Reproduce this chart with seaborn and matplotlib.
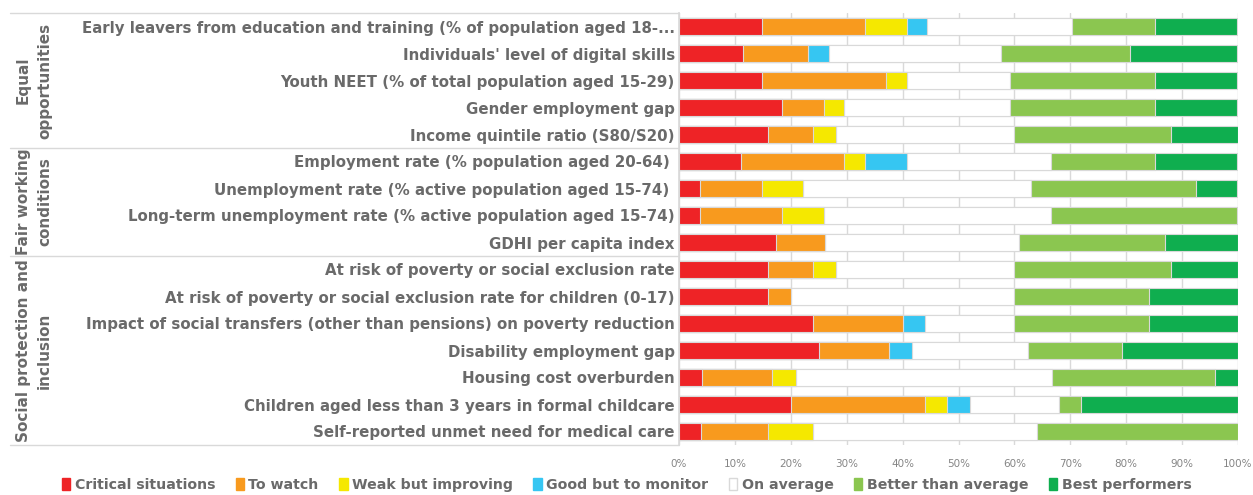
import numpy as np
import pandas as pd
import matplotlib.pyplot as plt
import matplotlib.transforms as mtransforms
from matplotlib.lines import Line2D
from matplotlib.patches import Patch
import seaborn as sns

# ==============================================
# Social scoreboard - share of regions per category
# ==============================================

indicators = [
    "Early leavers from education and training (% of population aged 18-...",
    "Individuals' level of digital skills",
    "Youth NEET (% of total population aged 15-29)",
    "Gender employment gap",
    "Income quintile ratio (S80/S20)",
    "Employment rate (% population aged 20-64) ",
    "Unemployment rate (% active population aged 15-74) ",
    "Long-term unemployment rate (% active population aged 15-74)",
    "GDHI per capita index",
    "At risk of poverty or social exclusion rate",
    "At risk of poverty or social exclusion rate for children (0-17)",
    "Impact of social transfers (other than pensions) on poverty reduction",
    "Disability employment gap",
    "Housing cost overburden",
    "Children aged less than 3 years in formal childcare",
    "Self-reported unmet need for medical care",
]

categories = ["Critical situations", "To watch", "Weak but improving",
              "Good but to monitor", "On average", "Better than average",
              "Best performers"]

# share of regions (%) in each category, one list per category
critical = [14.8, 11.5, 14.8, 18.5, 16.0, 11.1, 3.7, 3.7, 17.4, 16.0, 16.0, 24.0, 25.0, 4.2, 20.0, 4.0]
to_watch = [18.5, 11.5, 22.2, 7.4, 8.0, 18.5, 11.1, 14.8, 8.7, 8.0, 4.0, 16.0, 12.5, 12.5, 24.0, 12.0]
weak_improving = [7.4, 0.0, 3.7, 3.7, 4.0, 3.7, 7.4, 7.4, 0.0, 4.0, 0.0, 0.0, 0.0, 4.2, 4.0, 8.0]
good_monitor = [3.7, 3.8, 0.0, 0.0, 0.0, 7.4, 0.0, 0.0, 0.0, 0.0, 0.0, 4.0, 4.2, 0.0, 4.0, 0.0]
on_average = [25.9, 30.8, 18.5, 29.6, 32.0, 25.9, 40.7, 40.7, 34.8, 32.0, 40.0, 16.0, 20.8, 45.8, 16.0, 40.0]
better_avg = [14.8, 23.1, 25.9, 25.9, 28.0, 18.5, 29.6, 33.3, 26.1, 28.0, 24.0, 24.0, 16.7, 29.2, 4.0, 36.0]
best = [14.8, 19.2, 14.8, 14.8, 12.0, 14.8, 7.4, 0.0, 13.0, 12.0, 16.0, 16.0, 20.8, 4.2, 28.0, 0.0]

groups = ["Equal\nopportunities", "Fair working\nconditions", "Social protection and\ninclusion"]
group_sizes = [5, 4, 7]

colors = ["#EE2326", "#F89A1E", "#F5E800", "#36C6F2", "#FFFFFF", "#8BC650", "#0FAE4F"]
text_grey = "#6A6A6A"
line_grey = "#D9D9D9"

df = pd.DataFrame({"indicator": indicators, "Critical situations": critical,
                   "To watch": to_watch, "Weak but improving": weak_improving,
                   "Good but to monitor": good_monitor, "On average": on_average,
                   "Better than average": better_avg, "Best performers": best})
cum = df[categories].cumsum(axis=1)

sns.set_theme(style="white")
plt.rcParams["font.family"] = ["DejaVu Sans"]

fig = plt.figure(figsize=(12.53, 4.95), dpi=100)
ax = fig.add_axes([679 / 1253, 1 - 445 / 495, (1238 - 679) / 1253, (445 - 13) / 495])

# stacked bars: draw cumulative totals from the right-most category back
for cat, col in reversed(list(zip(categories, colors))):
    sns.barplot(x=cum[cat], y=df["indicator"], orient="h", color=col,
                width=0.64, edgecolor=line_grey, linewidth=0.8,
                saturation=1, ax=ax, zorder=3)

ax.set_xlim(0, 100)
ax.set_ylim(len(indicators) - 0.5, -0.5)
ax.set_xticks(np.arange(0, 101, 10))
ax.set_xticklabels([f"{v}%" for v in range(0, 101, 10)], fontsize=7.5, color="#858585")
ax.tick_params(axis="x", length=0, pad=10)
ax.tick_params(axis="y", length=0, pad=3)
ax.set_yticks(range(len(indicators)))
ax.set_yticklabels(indicators, fontsize=10.8, fontweight="bold", color=text_grey)
ax.set_xlabel("")
ax.set_ylabel("")
ax.grid(axis="x", color=line_grey, linewidth=1, zorder=0)
ax.set_axisbelow(True)
for s in ["top", "right", "bottom"]:
    ax.spines[s].set_visible(False)
ax.spines["left"].set_color(line_grey)

# group labels and separators
trans = mtransforms.blended_transform_factory(fig.transFigure, ax.transData)
start = -0.5
for name, n in zip(groups, group_sizes):
    end = start + n
    fig.text(34 / 1253, (start + end) / 2, name, transform=trans, rotation=90,
             ha="center", va="center", fontsize=11, fontweight="bold",
             color=text_grey, linespacing=1.5)
    start = end
bounds = np.concatenate([[-0.5], np.cumsum(group_sizes) - 0.5])
for b in bounds:
    fig.add_artist(Line2D([10 / 1253, 679 / 1253], [b, b], transform=trans,
                          color=line_grey, linewidth=1))

handles = [Patch(facecolor=c, edgecolor=line_grey if c == "#FFFFFF" else c, label=l)
           for c, l in zip(colors, categories)]
fig.legend(handles=handles, loc="center", bbox_to_anchor=(0.5, 1 - 485 / 495),
           ncol=7, frameon=False, handlelength=0.6, handleheight=0.9,
           handletextpad=0.3, columnspacing=1.45, borderpad=0.2,
           prop={"size": 10.2, "weight": "bold"}, labelcolor=text_grey)

fig.savefig("out.png", dpi=100)
